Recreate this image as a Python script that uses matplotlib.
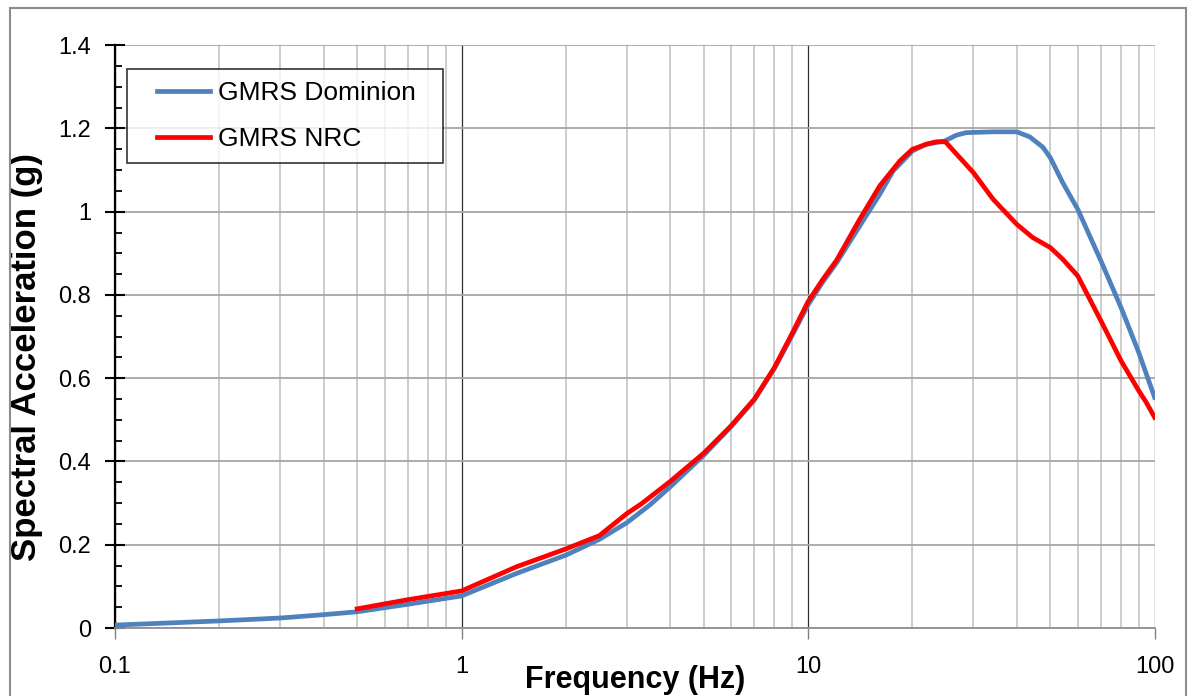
import matplotlib.pyplot as plt
from matplotlib.patches import Rectangle
from matplotlib.legend_handler import HandlerLine2D
from matplotlib.ticker import FixedLocator, FixedFormatter, NullFormatter

plt.rcParams['font.family'] = ['Liberation Sans', 'DejaVu Sans']

# GMRS spectra (frequency in Hz, spectral acceleration in g)
freq_dom = [0.1, 0.2, 0.3, 0.4, 0.5, 0.7, 1.0, 1.44, 2.0, 2.5, 3.0, 3.5, 4.0,
            5.0, 6.0, 7.0, 8.0, 9.0, 10.0, 11.0, 12.1, 14.1, 16.1, 17.6, 20.0,
            21.9, 24.8, 26.8, 28.6, 34.2, 40.0, 43.6, 47.6, 50.0, 54.3, 60.0,
            70.0, 80.0, 90.0, 100.0]
sa_dom = [0.007, 0.017, 0.024, 0.032, 0.039, 0.057, 0.077, 0.131, 0.175, 0.213,
          0.253, 0.296, 0.339, 0.415, 0.484, 0.548, 0.624, 0.703, 0.776, 0.830,
          0.878, 0.966, 1.042, 1.098, 1.146, 1.162, 1.170, 1.184, 1.190, 1.192,
          1.192, 1.180, 1.155, 1.130, 1.070, 1.006, 0.882, 0.770, 0.662, 0.554]

freq_nrc = [0.5, 0.7, 1.0, 1.44, 2.0, 2.5, 3.0, 3.3, 4.0, 5.0, 6.0, 7.0, 8.0,
            9.0, 10.0, 11.0, 12.1, 14.1, 16.1, 18.4, 20.0, 21.9, 23.4, 24.9,
            30.0, 34.2, 40.0, 44.5, 50.0, 54.3, 60.0, 70.0, 80.0, 90.0, 94.6,
            100.0]
sa_nrc = [0.046, 0.068, 0.089, 0.147, 0.190, 0.222, 0.275, 0.298, 0.352, 0.420,
          0.486, 0.550, 0.626, 0.708, 0.784, 0.836, 0.884, 0.982, 1.062, 1.122,
          1.150, 1.162, 1.168, 1.168, 1.094, 1.030, 0.970, 0.938, 0.914, 0.886,
          0.846, 0.738, 0.642, 0.570, 0.542, 0.506]

x_ticks = [0.1, 1, 10, 100]
x_labels = ['0.1', '1', '10', '100']
y_ticks = [0, 0.2, 0.4, 0.6, 0.8, 1.0, 1.2, 1.4]
y_labels = ['0', '0.2', '0.4', '0.6', '0.8', '1', '1.2', '1.4']

fig = plt.figure(figsize=(11.94, 6.96), dpi=100)
ax = fig.add_axes([0.0963, 0.0977, 0.8707, 0.8373])

ax.plot(freq_dom, sa_dom, color='#4F81BD', lw=3.4, label='GMRS Dominion',
        solid_joinstyle='round', zorder=3)
ax.plot(freq_nrc, sa_nrc, color='#FF0000', lw=3.4, label='GMRS NRC',
        solid_joinstyle='round', zorder=4)

ax.set_xscale('log')
ax.set_xlim(0.1, 100)
ax.set_ylim(0, 1.4)

ax.xaxis.set_major_locator(FixedLocator(x_ticks))
ax.xaxis.set_major_formatter(FixedFormatter(x_labels))
minor_x = [m * d for d in (0.1, 1, 10) for m in range(2, 10)]
ax.xaxis.set_minor_locator(FixedLocator(minor_x))
ax.xaxis.set_minor_formatter(NullFormatter())
ax.yaxis.set_major_locator(FixedLocator(y_ticks))
ax.yaxis.set_major_formatter(FixedFormatter(y_labels))
ax.yaxis.set_minor_locator(FixedLocator([i * 0.05 for i in range(29)]))

# gridlines: dark at decades, light at minor frequencies, grey for g levels
ax.grid(True, which='major', axis='x', color='#303030', lw=0.9)
ax.grid(True, which='minor', axis='x', color='#c8c8c8', lw=1.3)
ax.grid(True, which='major', axis='y', color='#a6a6a6', lw=1.3)
ax.set_axisbelow(True)

ax.tick_params(axis='x', which='major', direction='out', length=8, width=1,
               color='#808080', pad=12, labelsize=17)
ax.tick_params(axis='x', which='minor', length=0)
ax.tick_params(axis='y', which='major', direction='inout', length=14, width=1.5,
               color='black', pad=10, labelsize=17)
ax.tick_params(axis='y', which='minor', direction='in', length=5, width=1.3,
               color='black')

for side in ('top', 'right'):
    ax.spines[side].set_visible(False)
ax.spines['left'].set_color('black')
ax.spines['left'].set_linewidth(1.6)
ax.spines['bottom'].set_color('#909090')
ax.spines['bottom'].set_linewidth(1.3)

ax.set_xlabel('Frequency (Hz)', fontsize=22, fontweight='bold')
ax.xaxis.set_label_coords(0.5, -0.063)
ax.set_ylabel('Spectral Acceleration (g)', fontsize=25, fontweight='bold')
ax.yaxis.set_label_coords(-0.0695, 0.465)

# legend box stretched to a fixed width, line samples inset from the left
leg = ax.legend(loc='upper left', bbox_to_anchor=(0.0115, 0.8, 0.3038, 0.159),
                mode='expand', fontsize=19, frameon=True, fancybox=False,
                handlelength=2.7, handletextpad=0.3, borderpad=0.45,
                labelspacing=0.85, borderaxespad=0,
                handler_map={plt.Line2D: HandlerLine2D(xpad=0.68)})
leg.get_frame().set_edgecolor('black')
leg.get_frame().set_linewidth(1.2)

# outer chart border
fig.patches.append(Rectangle((10 / 1194, -0.02), 1176 / 1194, 1.02 - 8 / 696,
                             transform=fig.transFigure, fill=False,
                             edgecolor='#8c8c8c', lw=1.5))

fig.savefig('out.png', dpi=100)
